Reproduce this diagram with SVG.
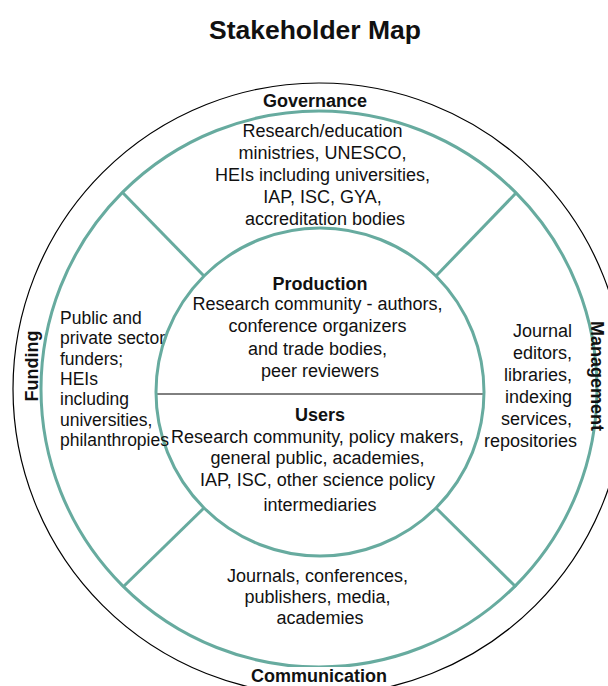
<svg xmlns="http://www.w3.org/2000/svg" width="608" height="686" viewBox="0 0 608 686">
  <style>
    text { font-family: "Liberation Sans", Arial, sans-serif; fill: #111; }
    .title { font-size: 26.5px; font-weight: bold; }
    .lbl { font-size: 18px; font-weight: bold; }
    .body { font-size: 18px; }
    .ring { fill: none; stroke: #67AB9F; stroke-width: 3; }
    .outer { fill: none; stroke: #000; stroke-width: 1.2; }
    .div { stroke: #67AB9F; stroke-width: 3; fill: none; }
    .mid { text-anchor: middle; }
  </style>
  <rect width="608" height="686" fill="#fff"/>
  <text class="title mid" x="315" y="39">Stakeholder Map</text>

  <g id="outer-ring">
    <circle class="outer" cx="319" cy="389" r="306"/>
  </g>
  <g id="middle-ring">
    <circle class="ring" cx="319" cy="389" r="278"/>
  </g>

  <g id="connectors">
    <line class="div" x1="204" y1="276" x2="123" y2="193"/>
    <line class="div" x1="436" y1="276" x2="516" y2="193"/>
    <line class="div" x1="204" y1="508" x2="123" y2="587"/>
    <line class="div" x1="436" y1="508" x2="516" y2="587"/>
    <line x1="157" y1="394" x2="483" y2="394" stroke="#000" stroke-width="1"/>
  </g>

  <g id="inner-circle">
    <circle class="ring" cx="320" cy="392" r="164" fill="none"/>
  </g>

  <g id="governance">
    <text class="lbl mid" x="315" y="107">Governance</text>
    <text class="body mid" x="325">
      <tspan x="325" y="137">Research/education</tspan>
      <tspan x="325" y="159">ministries, UNESCO,</tspan>
      <tspan x="325" y="181">HEIs including universities,</tspan>
      <tspan x="325" y="203">IAP, ISC, GYA,</tspan>
      <tspan x="325" y="225">accreditation bodies</tspan>
    </text>
  </g>

  <g id="production">
    <text class="lbl mid" x="320" y="290">Production</text>
    <text class="body mid">
      <tspan x="320" y="310">Research community - authors,</tspan>
      <tspan x="320" y="332">conference organizers</tspan>
      <tspan x="320" y="355">and trade bodies,</tspan>
      <tspan x="320" y="377">peer reviewers</tspan>
    </text>
  </g>

  <g id="users">
    <text class="lbl mid" x="320" y="421">Users</text>
    <text class="body mid">
      <tspan x="320" y="443">Research community, policy makers,</tspan>
      <tspan x="320" y="464">general public, academies,</tspan>
      <tspan x="320" y="486">IAP, ISC, other science policy</tspan>
      <tspan x="320" y="511">intermediaries</tspan>
    </text>
  </g>

  <g id="funding">
    <text class="lbl mid" transform="translate(38,366) rotate(-90)">Funding</text>
    <text class="body" style="font-size:17.5px">
      <tspan x="60" y="324">Public and</tspan>
      <tspan x="60" y="344">private sector</tspan>
      <tspan x="60" y="365">funders;</tspan>
      <tspan x="60" y="385">HEIs</tspan>
      <tspan x="60" y="405">including</tspan>
      <tspan x="60" y="426">universities,</tspan>
      <tspan x="60" y="446">philanthropies</tspan>
    </text>
  </g>

  <g id="management">
    <text class="lbl mid" transform="translate(591,376) rotate(90)">Management</text>
    <text class="body" text-anchor="end">
      <tspan x="577" y="337">Journal</tspan>
      <tspan x="577" y="359">editors,</tspan>
      <tspan x="577" y="381">libraries,</tspan>
      <tspan x="577" y="403">indexing</tspan>
      <tspan x="577" y="425">services,</tspan>
      <tspan x="577" y="447">repositories</tspan>
    </text>
  </g>

  <g id="communication">
    <text class="body mid">
      <tspan x="320" y="582">Journals, conferences,</tspan>
      <tspan x="320" y="603">publishers, media,</tspan>
      <tspan x="320" y="624">academies</tspan>
    </text>
    <rect x="250" y="667" width="140" height="19" fill="#fff"/>
    <text class="lbl mid" x="319" y="682">Communication</text>
  </g>
</svg>
